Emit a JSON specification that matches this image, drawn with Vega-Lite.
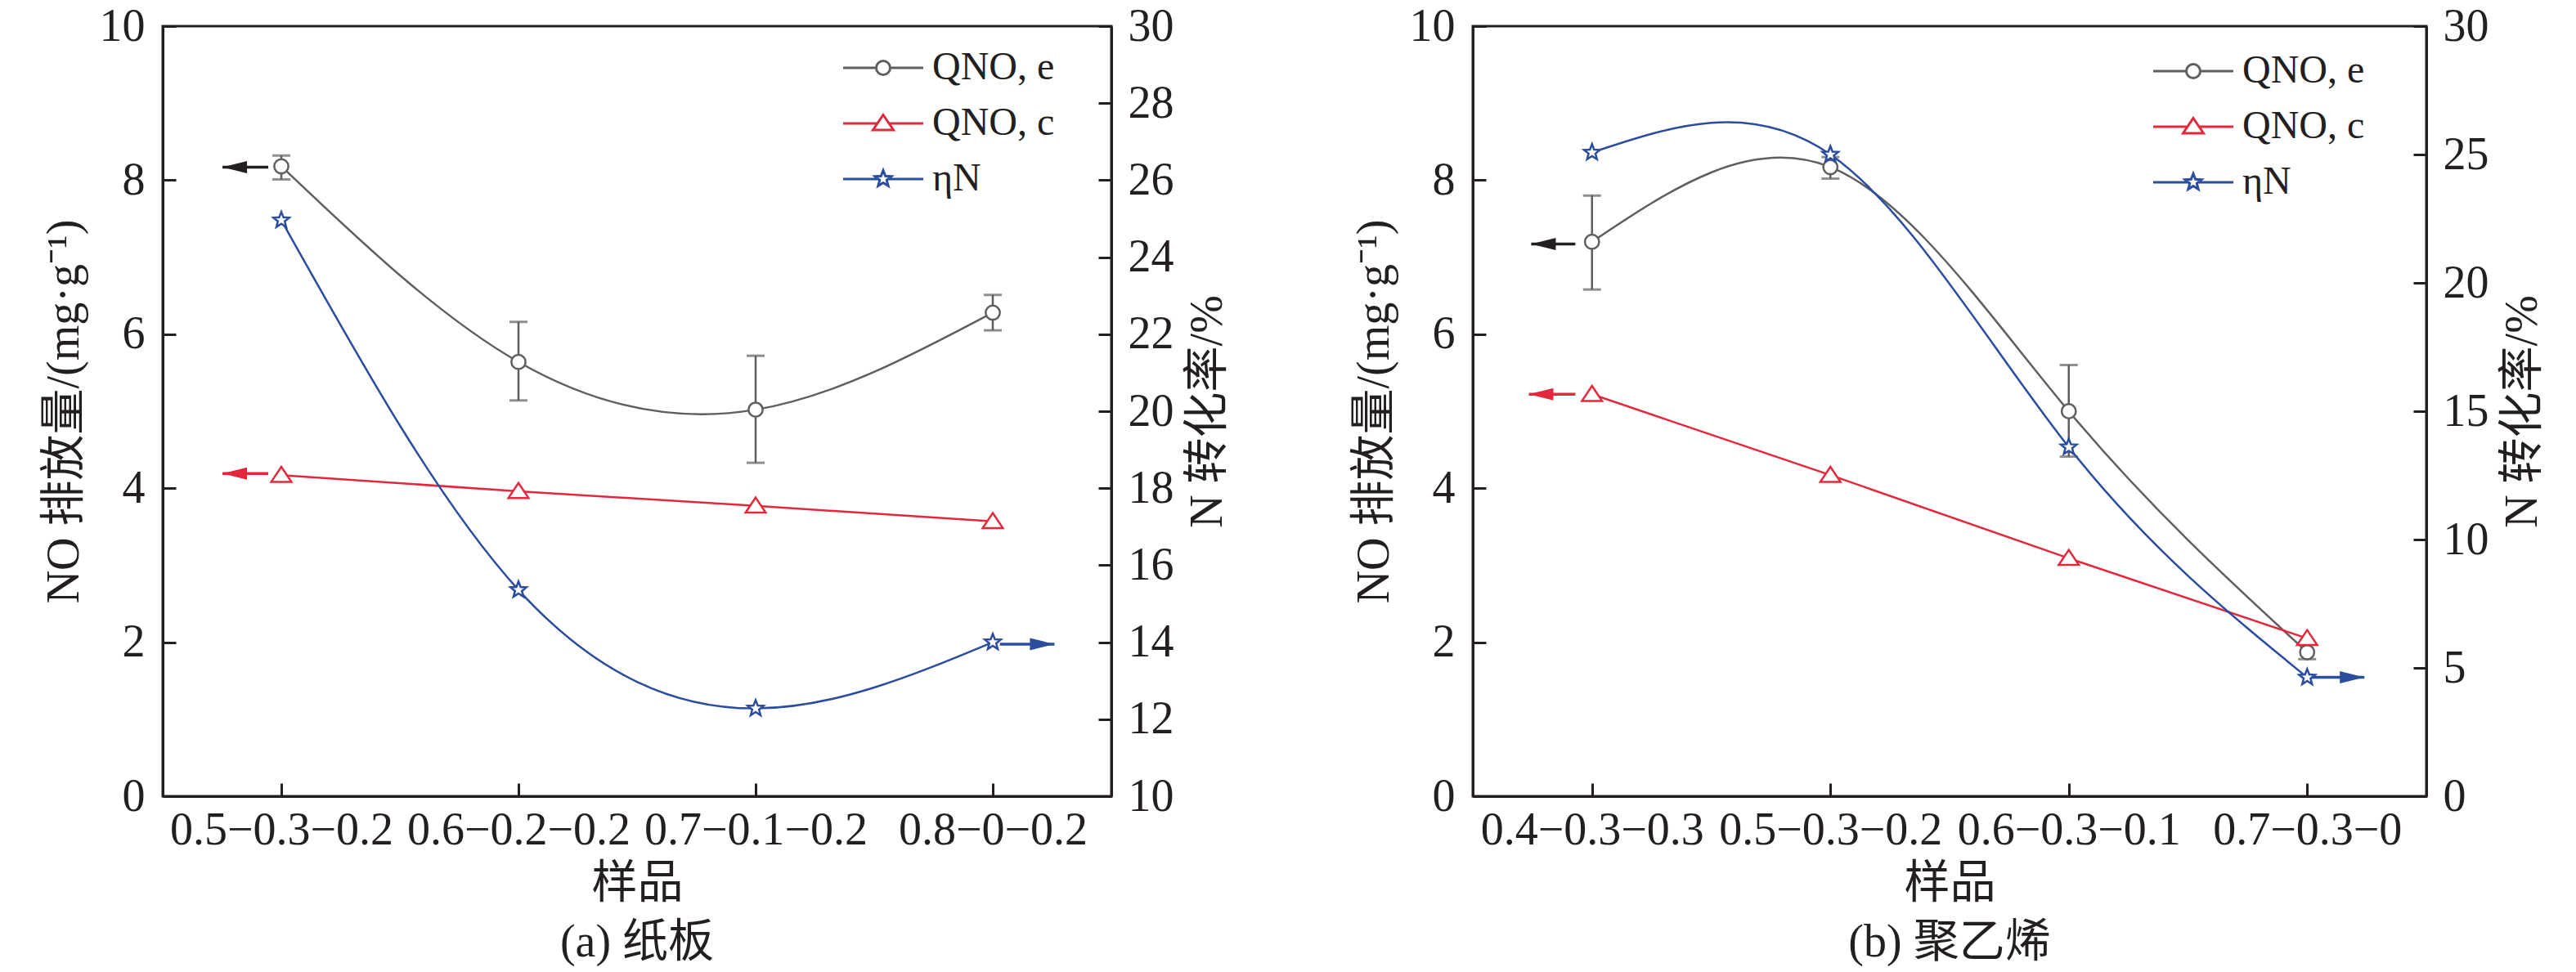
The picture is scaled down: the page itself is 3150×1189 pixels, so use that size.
{
  "$schema": "https://vega.github.io/schema/vega-lite/v6.json",
  "padding": {"left": 48, "top": 2, "right": 0, "bottom": 0},
  "datasets": {
    "paper": [
      {"idx": 1, "sample": "0.5−0.3−0.2", "series": "QNO, e", "value": 8.18, "low": 8.01, "high": 8.32},
      {"idx": 2, "sample": "0.6−0.2−0.2", "series": "QNO, e", "value": 5.64, "low": 5.14, "high": 6.16},
      {"idx": 3, "sample": "0.7−0.1−0.2", "series": "QNO, e", "value": 5.02, "low": 4.33, "high": 5.72},
      {"idx": 4, "sample": "0.8−0−0.2", "series": "QNO, e", "value": 6.28, "low": 6.05, "high": 6.51},
      {"idx": 1, "sample": "0.5−0.3−0.2", "series": "QNO, c", "value": 4.17},
      {"idx": 2, "sample": "0.6−0.2−0.2", "series": "QNO, c", "value": 3.96},
      {"idx": 3, "sample": "0.7−0.1−0.2", "series": "QNO, c", "value": 3.77},
      {"idx": 4, "sample": "0.8−0−0.2", "series": "QNO, c", "value": 3.57},
      {"idx": 1, "sample": "0.5−0.3−0.2", "series": "ηN", "value": 24.96},
      {"idx": 2, "sample": "0.6−0.2−0.2", "series": "ηN", "value": 15.36},
      {"idx": 3, "sample": "0.7−0.1−0.2", "series": "ηN", "value": 12.28},
      {"idx": 4, "sample": "0.8−0−0.2", "series": "ηN", "value": 14.0}
    ],
    "pe": [
      {"idx": 1, "sample": "0.4−0.3−0.3", "series": "QNO, e", "value": 7.2, "low": 6.58, "high": 7.8},
      {"idx": 2, "sample": "0.5−0.3−0.2", "series": "QNO, e", "value": 8.17, "low": 8.02, "high": 8.3},
      {"idx": 3, "sample": "0.6−0.3−0.1", "series": "QNO, e", "value": 5.0, "low": 4.41, "high": 5.6},
      {"idx": 4, "sample": "0.7−0.3−0", "series": "QNO, e", "value": 1.87, "low": 1.78, "high": 1.97},
      {"idx": 1, "sample": "0.4−0.3−0.3", "series": "QNO, c", "value": 5.22},
      {"idx": 2, "sample": "0.5−0.3−0.2", "series": "QNO, c", "value": 4.17},
      {"idx": 3, "sample": "0.6−0.3−0.1", "series": "QNO, c", "value": 3.09},
      {"idx": 4, "sample": "0.7−0.3−0", "series": "QNO, c", "value": 2.05},
      {"idx": 1, "sample": "0.4−0.3−0.3", "series": "ηN", "value": 25.08},
      {"idx": 2, "sample": "0.5−0.3−0.2", "series": "ηN", "value": 25.0},
      {"idx": 3, "sample": "0.6−0.3−0.1", "series": "ηN", "value": 13.6},
      {"idx": 4, "sample": "0.7−0.3−0", "series": "ηN", "value": 4.63}
    ],
    "arrows": [
      {"panel": "a", "series": "QNO, e", "from": 0.945, "to": 0.752, "value": 8.17},
      {"panel": "a", "series": "QNO, c", "from": 0.945, "to": 0.752, "value": 4.19},
      {"panel": "a", "series": "ηN", "from": 4.03, "to": 4.26, "value": 13.95},
      {"panel": "b", "series": "QNO, e", "from": 0.93, "to": 0.745, "value": 7.17},
      {"panel": "b", "series": "QNO, c", "from": 0.93, "to": 0.735, "value": 5.22},
      {"panel": "b", "series": "ηN", "from": 4.02, "to": 4.24, "value": 4.63}
    ]
  },
  "spacing": 144,
  "resolve": {
    "scale": {"color": "independent", "shape": "independent"},
    "legend": {"color": "independent", "shape": "independent"}
  },
  "hconcat": [
    {
      "width": 1160,
      "height": 942,
      "title": {"text": "(a) 纸板", "orient": "bottom", "offset": 18},
      "layer": [
        {
          "data": {"name": "paper"},
          "encoding": {
            "x": {"field": "idx", "type": "quantitative",
              "scale": {"domain": [0.5, 4.5], "nice": false, "zero": false},
              "axis": {"values": [1, 2, 3, 4], "labelExpr": "['', '0.5−0.3−0.2', '0.6−0.2−0.2', '0.7−0.1−0.2', '0.8−0−0.2'][datum.value]", "title": "样品", "labelOverlap": false, "labelPadding": 30, "titlePadding": 10}},
            "y": {"field": "value", "type": "quantitative",
              "scale": {"domain": [0, 10], "nice": false, "zero": false},
              "axis": {"values": [0, 2, 4, 6, 8, 10], "title": "NO 排放量/(mg·g⁻¹)", "labelPadding": 38, "titlePadding": 14}}
          },
          "layer": [
            {
              "transform": [{"filter": "datum.series === 'QNO, e'"}],
              "mark": {"type": "errorbar", "color": "#5f5f5f", "ticks": {"size": 22, "thickness": 3}, "rule": {"strokeWidth": 2.5}},
              "encoding": {"y": {"field": "low", "type": "quantitative"}, "y2": {"field": "high"}}
            },
            {
              "transform": [{"filter": "datum.series === 'QNO, e'"}],
              "mark": {"type": "line", "interpolate": "natural", "color": "#5f5f5f", "strokeWidth": 2.5}
            },
            {
              "transform": [{"filter": "datum.series === 'QNO, c'"}],
              "mark": {"type": "line", "color": "#e3283c", "strokeWidth": 2.5}
            },
            {
              "transform": [{"filter": "datum.series === 'QNO, e'"}],
              "mark": {"type": "point", "shape": "circle", "size": 300, "filled": true, "fill": "white", "stroke": "#5f5f5f", "strokeWidth": 2.5, "opacity": 1}
            },
            {
              "transform": [{"filter": "datum.series === 'QNO, c'"}],
              "mark": {"type": "point", "shape": "M0,-1L1.2,0.8L-1.2,0.8Z", "size": 420, "filled": true, "fill": "white", "stroke": "#e3283c", "strokeWidth": 2.5, "opacity": 1}
            },
            {
              "data": {"name": "arrows"},
              "transform": [{"filter": "datum.panel === 'a' && datum.series === 'QNO, e'"}],
              "layer": [
                {"mark": {"type": "rule", "color": "#231f20", "strokeWidth": 3.5}, "encoding": {"x": {"field": "from", "type": "quantitative"}, "x2": {"field": "to"}}},
                {"mark": {"type": "point", "shape": "M0,0L2,-0.5L2,0.5Z", "size": 900, "filled": true, "color": "#231f20", "opacity": 1}, "encoding": {"x": {"field": "to", "type": "quantitative"}}}
              ]
            },
            {
              "data": {"name": "arrows"},
              "transform": [{"filter": "datum.panel === 'a' && datum.series === 'QNO, c'"}],
              "layer": [
                {"mark": {"type": "rule", "color": "#e3283c", "strokeWidth": 3.5}, "encoding": {"x": {"field": "from", "type": "quantitative"}, "x2": {"field": "to"}}},
                {"mark": {"type": "point", "shape": "M0,0L2,-0.5L2,0.5Z", "size": 900, "filled": true, "color": "#e3283c", "opacity": 1}, "encoding": {"x": {"field": "to", "type": "quantitative"}}}
              ]
            }
          ]
        },
        {
          "data": {"name": "paper"},
          "encoding": {
            "x": {"field": "idx", "type": "quantitative",
              "scale": {"domain": [0.5, 4.5], "nice": false, "zero": false},
              "axis": {"values": [1, 2, 3, 4], "labelExpr": "['', '0.5−0.3−0.2', '0.6−0.2−0.2', '0.7−0.1−0.2', '0.8−0−0.2'][datum.value]", "title": "样品", "labelOverlap": false, "labelPadding": 30, "titlePadding": 10}},
            "y": {"field": "value", "type": "quantitative",
              "scale": {"domain": [10, 30], "nice": false, "zero": false},
              "axis": {"orient": "right", "values": [10, 12, 14, 16, 18, 20, 22, 24, 26, 28, 30], "title": "N 转化率/%", "titleAngle": 270, "titleBaseline": "top", "labelPadding": 36, "titlePadding": 14}}
          },
          "layer": [
            {
              "transform": [{"filter": "datum.series === 'ηN'"}],
              "mark": {"type": "line", "interpolate": "natural", "color": "#2a4d9e", "strokeWidth": 2.5}
            },
            {
              "transform": [{"filter": "datum.series === 'ηN'"}],
              "mark": {"type": "point", "shape": "M0,-1L0.252,-0.347L0.951,-0.309L0.408,0.133L0.588,0.809L0,0.43L-0.588,0.809L-0.408,0.133L-0.951,-0.309L-0.252,-0.347Z", "size": 420, "filled": true, "fill": "white", "stroke": "#2a4d9e", "strokeWidth": 2.5, "opacity": 1}
            },
            {
              "data": {"name": "arrows"},
              "transform": [{"filter": "datum.panel === 'a' && datum.series === 'ηN'"}],
              "layer": [
                {"mark": {"type": "rule", "color": "#2a4d9e", "strokeWidth": 3.5}, "encoding": {"x": {"field": "from", "type": "quantitative"}, "x2": {"field": "to"}}},
                {"mark": {"type": "point", "shape": "M0,0L-2,-0.5L-2,0.5Z", "size": 900, "filled": true, "color": "#2a4d9e", "opacity": 1}, "encoding": {"x": {"field": "to", "type": "quantitative"}}}
              ]
            },
            {
              "transform": [{"filter": "false"}],
              "mark": {"type": "point", "filled": false, "strokeWidth": 3, "size": 400, "opacity": 1},
              "encoding": {
                "color": {"field": "series", "type": "nominal",
                  "scale": {"domain": ["QNO, e", "QNO, c", "ηN"], "range": ["#5f5f5f", "#e3283c", "#2a4d9e"]},
                  "legend": {"orient": "none", "legendX": 857, "legendY": 27, "title": null, "labelOffset": 36, "rowPadding": 20, "symbolSize": 400, "symbolStrokeWidth": 3}},
                "shape": {"field": "series", "type": "nominal",
                  "scale": {"domain": ["QNO, e", "QNO, c", "ηN"], "range": [
                    "M-4.9,0L-0.85,0M0.85,0L4.9,0M0.85,0A0.85,0.85,0,1,1,-0.85,0A0.85,0.85,0,1,1,0.85,0Z",
                    "M-4.9,0L-0.71,0M0.71,0L4.9,0M0,-1.05L1.25,0.8L-1.25,0.8Z",
                    "M-4.9,0L-0.6,0M0.6,0L4.9,0M0,-1.05L0.265,-0.364L0.999,-0.324L0.428,0.139L0.617,0.849L0,0.45L-0.617,0.849L-0.428,0.139L-0.999,-0.324L-0.265,-0.364Z"
                  ]},
                  "legend": {"orient": "none", "legendX": 857, "legendY": 27, "title": null, "labelOffset": 36, "rowPadding": 20, "symbolSize": 400, "symbolStrokeWidth": 3}}
              }
            }
          ]
        }
      ],
      "resolve": {"scale": {"y": "independent"}}
    },
    {
      "width": 1166,
      "height": 942,
      "title": {"text": "(b) 聚乙烯", "orient": "bottom", "offset": 18},
      "layer": [
        {
          "data": {"name": "pe"},
          "encoding": {
            "x": {"field": "idx", "type": "quantitative",
              "scale": {"domain": [0.5, 4.5], "nice": false, "zero": false},
              "axis": {"values": [1, 2, 3, 4], "labelExpr": "['', '0.4−0.3−0.3', '0.5−0.3−0.2', '0.6−0.3−0.1', '0.7−0.3−0'][datum.value]", "title": "样品", "labelOverlap": false, "labelPadding": 30, "titlePadding": 10}},
            "y": {"field": "value", "type": "quantitative",
              "scale": {"domain": [0, 10], "nice": false, "zero": false},
              "axis": {"values": [0, 2, 4, 6, 8, 10], "title": "NO 排放量/(mg·g⁻¹)", "labelPadding": 38, "titlePadding": 14}}
          },
          "layer": [
            {
              "transform": [{"filter": "datum.series === 'QNO, e'"}],
              "mark": {"type": "errorbar", "color": "#5f5f5f", "ticks": {"size": 22, "thickness": 3}, "rule": {"strokeWidth": 2.5}},
              "encoding": {"y": {"field": "low", "type": "quantitative"}, "y2": {"field": "high"}}
            },
            {
              "transform": [{"filter": "datum.series === 'QNO, e'"}],
              "mark": {"type": "line", "interpolate": "natural", "color": "#5f5f5f", "strokeWidth": 2.5}
            },
            {
              "transform": [{"filter": "datum.series === 'QNO, c'"}],
              "mark": {"type": "line", "color": "#e3283c", "strokeWidth": 2.5}
            },
            {
              "transform": [{"filter": "datum.series === 'QNO, e'"}],
              "mark": {"type": "point", "shape": "circle", "size": 300, "filled": true, "fill": "white", "stroke": "#5f5f5f", "strokeWidth": 2.5, "opacity": 1}
            },
            {
              "transform": [{"filter": "datum.series === 'QNO, c'"}],
              "mark": {"type": "point", "shape": "M0,-1L1.2,0.8L-1.2,0.8Z", "size": 420, "filled": true, "fill": "white", "stroke": "#e3283c", "strokeWidth": 2.5, "opacity": 1}
            },
            {
              "data": {"name": "arrows"},
              "transform": [{"filter": "datum.panel === 'b' && datum.series === 'QNO, e'"}],
              "layer": [
                {"mark": {"type": "rule", "color": "#231f20", "strokeWidth": 3.5}, "encoding": {"x": {"field": "from", "type": "quantitative"}, "x2": {"field": "to"}}},
                {"mark": {"type": "point", "shape": "M0,0L2,-0.5L2,0.5Z", "size": 900, "filled": true, "color": "#231f20", "opacity": 1}, "encoding": {"x": {"field": "to", "type": "quantitative"}}}
              ]
            },
            {
              "data": {"name": "arrows"},
              "transform": [{"filter": "datum.panel === 'b' && datum.series === 'QNO, c'"}],
              "layer": [
                {"mark": {"type": "rule", "color": "#e3283c", "strokeWidth": 3.5}, "encoding": {"x": {"field": "from", "type": "quantitative"}, "x2": {"field": "to"}}},
                {"mark": {"type": "point", "shape": "M0,0L2,-0.5L2,0.5Z", "size": 900, "filled": true, "color": "#e3283c", "opacity": 1}, "encoding": {"x": {"field": "to", "type": "quantitative"}}}
              ]
            }
          ]
        },
        {
          "data": {"name": "pe"},
          "encoding": {
            "x": {"field": "idx", "type": "quantitative",
              "scale": {"domain": [0.5, 4.5], "nice": false, "zero": false},
              "axis": {"values": [1, 2, 3, 4], "labelExpr": "['', '0.4−0.3−0.3', '0.5−0.3−0.2', '0.6−0.3−0.1', '0.7−0.3−0'][datum.value]", "title": "样品", "labelOverlap": false, "labelPadding": 30, "titlePadding": 10}},
            "y": {"field": "value", "type": "quantitative",
              "scale": {"domain": [0, 30], "nice": false, "zero": false},
              "axis": {"orient": "right", "values": [0, 5, 10, 15, 20, 25, 30], "title": "N 转化率/%", "titleAngle": 270, "titleBaseline": "top", "labelPadding": 36, "titlePadding": 14}}
          },
          "layer": [
            {
              "transform": [{"filter": "datum.series === 'ηN'"}],
              "mark": {"type": "line", "interpolate": "natural", "color": "#2a4d9e", "strokeWidth": 2.5}
            },
            {
              "transform": [{"filter": "datum.series === 'ηN'"}],
              "mark": {"type": "point", "shape": "M0,-1L0.252,-0.347L0.951,-0.309L0.408,0.133L0.588,0.809L0,0.43L-0.588,0.809L-0.408,0.133L-0.951,-0.309L-0.252,-0.347Z", "size": 420, "filled": true, "fill": "white", "stroke": "#2a4d9e", "strokeWidth": 2.5, "opacity": 1}
            },
            {
              "data": {"name": "arrows"},
              "transform": [{"filter": "datum.panel === 'b' && datum.series === 'ηN'"}],
              "layer": [
                {"mark": {"type": "rule", "color": "#2a4d9e", "strokeWidth": 3.5}, "encoding": {"x": {"field": "from", "type": "quantitative"}, "x2": {"field": "to"}}},
                {"mark": {"type": "point", "shape": "M0,0L-2,-0.5L-2,0.5Z", "size": 900, "filled": true, "color": "#2a4d9e", "opacity": 1}, "encoding": {"x": {"field": "to", "type": "quantitative"}}}
              ]
            },
            {
              "transform": [{"filter": "false"}],
              "mark": {"type": "point", "filled": false, "strokeWidth": 3, "size": 400, "opacity": 1},
              "encoding": {
                "color": {"field": "series", "type": "nominal",
                  "scale": {"domain": ["QNO, e", "QNO, c", "ηN"], "range": ["#5f5f5f", "#e3283c", "#2a4d9e"]},
                  "legend": {"orient": "none", "legendX": 857, "legendY": 31, "title": null, "labelOffset": 36, "rowPadding": 20, "symbolSize": 400, "symbolStrokeWidth": 3}},
                "shape": {"field": "series", "type": "nominal",
                  "scale": {"domain": ["QNO, e", "QNO, c", "ηN"], "range": [
                    "M-4.9,0L-0.85,0M0.85,0L4.9,0M0.85,0A0.85,0.85,0,1,1,-0.85,0A0.85,0.85,0,1,1,0.85,0Z",
                    "M-4.9,0L-0.71,0M0.71,0L4.9,0M0,-1.05L1.25,0.8L-1.25,0.8Z",
                    "M-4.9,0L-0.6,0M0.6,0L4.9,0M0,-1.05L0.265,-0.364L0.999,-0.324L0.428,0.139L0.617,0.849L0,0.45L-0.617,0.849L-0.428,0.139L-0.999,-0.324L-0.265,-0.364Z"
                  ]},
                  "legend": {"orient": "none", "legendX": 857, "legendY": 31, "title": null, "labelOffset": 36, "rowPadding": 20, "symbolSize": 400, "symbolStrokeWidth": 3}}
              }
            }
          ]
        }
      ],
      "resolve": {"scale": {"y": "independent"}}
    }
  ],
  "config": {
    "font": "Liberation Serif, Noto Sans CJK SC",
    "background": "white",
    "view": {"stroke": "#231f20", "strokeWidth": 3},
    "axis": {
      "grid": false,
      "domainColor": "#231f20", "domainWidth": 3,
      "tickColor": "#231f20", "tickWidth": 3, "tickSize": -16,
      "labelLimit": 0,
      "labelFont": "Liberation Serif, Noto Sans CJK SC", "labelFontSize": 56, "labelColor": "#231f20",
      "titleFont": "Liberation Serif, Noto Sans CJK SC", "titleFontSize": 56, "titleFontWeight": "normal", "titleColor": "#231f20"
    },
    "title": {"font": "Liberation Serif, Noto Sans CJK SC", "fontSize": 56, "fontWeight": "normal", "color": "#231f20"},
    "legend": {"labelFont": "Liberation Serif, Noto Sans CJK SC", "labelFontSize": 48, "labelColor": "#231f20", "padding": 0}
  }
}
